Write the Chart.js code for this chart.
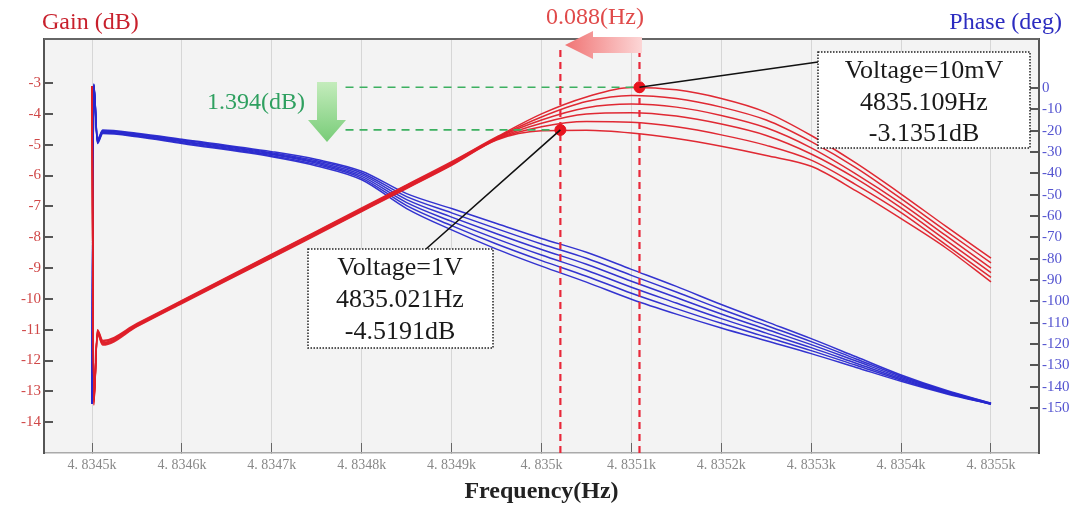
<!DOCTYPE html>
<html>
<head>
<meta charset="utf-8">
<script src="https://cdn.jsdelivr.net/npm/chart.js@4.4.1/dist/chart.umd.min.js"></script>
<style>
  html, body { margin: 0; padding: 0; background: #fff; }
  #wrap { width: 1084px; height: 508px; }
</style>
</head>
<body>
<div id="wrap"><canvas id="chart1" width="1084" height="508"></canvas></div>
<script>
const serif = "'Liberation Serif', 'DejaVu Serif', serif";

// frequency points (Hz)
const freq = [4834.500, 4834.502, 4834.506, 4834.512, 4834.55, 4834.6, 4834.7, 4834.75, 4834.8, 4834.85,
  4834.9, 4834.95, 4835.0, 4835.05, 4835.1, 4835.15, 4835.2, 4835.25, 4835.3, 4835.35, 4835.4, 4835.45, 4835.5];

// gain (dB), 10mV curve first ... 1V curve last
const gainV1 = [-3.1, -13.45, -11.0, -11.35, -10.8, -10.05, -8.55, -7.8, -7.05, -6.3, -5.55, -4.75, -4.0, -3.45, -3.14, -3.22, -3.5, -3.95, -4.7, -5.6, -6.6, -7.65, -8.68];
const gainV2 = [-3.1, -13.4, -11.03, -11.38, -10.82, -10.07, -8.57, -7.82, -7.07, -6.32, -5.57, -4.77, -4.1, -3.6, -3.4, -3.5, -3.78, -4.2, -4.9, -5.75, -6.75, -7.8, -8.83];
const gainV3 = [-3.1, -13.35, -11.06, -11.41, -10.84, -10.09, -8.6, -7.85, -7.1, -6.35, -5.6, -4.79, -4.2, -3.8, -3.68, -3.78, -4.05, -4.45, -5.1, -5.95, -6.9, -7.95, -9.0];
const gainV4 = [-3.1, -13.3, -11.09, -11.44, -10.86, -10.11, -8.62, -7.87, -7.12, -6.37, -5.62, -4.81, -4.3, -4.0, -3.96, -4.07, -4.33, -4.7, -5.3, -6.1, -7.05, -8.1, -9.15];
const gainV5 = [-3.1, -13.25, -11.12, -11.47, -10.88, -10.13, -8.65, -7.9, -7.15, -6.4, -5.65, -4.83, -4.42, -4.25, -4.27, -4.42, -4.68, -5.02, -5.5, -6.3, -7.2, -8.25, -9.3];
const gainV6 = [-3.1, -13.2, -11.15, -11.5, -10.9, -10.15, -8.67, -7.92, -7.17, -6.42, -5.67, -4.85, -4.55, -4.53, -4.62, -4.8, -5.05, -5.35, -5.7, -6.5, -7.4, -8.35, -9.45];

// phase (deg)
const phaseV1 = [-148, 2.0, -24, -19.7, -21.2, -24, -29.8, -33.5, -39, -49.5, -56.5, -63.5, -70.5, -77, -85, -93, -101.5, -109.5, -117.5, -126, -134.5, -141.7, -147.7];
const phaseV2 = [-148, 1.8, -24.4, -20.0, -21.5, -24.4, -30.3, -34.1, -39.8, -50.9, -58.5, -65.9, -73.1, -79.8, -87.8, -95.6, -103.7, -111.3, -118.9, -127, -135.1, -142.0, -147.8];
const phaseV3 = [-148, 1.6, -24.8, -20.3, -21.8, -24.8, -30.8, -34.7, -40.6, -52.3, -60.5, -68.3, -75.7, -82.6, -90.6, -98.2, -105.9, -113.1, -120.3, -128, -135.7, -142.3, -147.9];
const phaseV4 = [-148, 1.4, -25.2, -20.7, -22.2, -25.2, -31.2, -35.3, -41.4, -53.7, -62.5, -70.7, -78.3, -85.4, -93.4, -100.8, -108.1, -114.9, -121.7, -129, -136.3, -142.7, -148.1];
const phaseV5 = [-148, 1.2, -25.6, -21.0, -22.5, -25.6, -31.7, -35.9, -42.2, -55.1, -64.5, -73.1, -80.9, -88.2, -96.2, -103.4, -110.3, -116.7, -123.1, -130, -136.9, -143.0, -148.2];
const phaseV6 = [-148, 1.0, -26, -21.3, -22.8, -26, -32.2, -36.5, -43, -56.5, -66.5, -75.5, -83.5, -91, -99, -106, -112.5, -118.5, -124.5, -131, -137.5, -143.3, -148.3];

// peak cursors: 1V and 10mV
const peakFreq = [4835.021, 4835.109];
const peakGain = [-4.5191, -3.1351];
const guideStart = 4834.782;

// axes
const freqTicks = [4834.5, 4834.6, 4834.7, 4834.8, 4834.9, 4835.0, 4835.1, 4835.2, 4835.3, 4835.4, 4835.5];
const freqTickLabels = ["4. 8345k", "4. 8346k", "4. 8347k", "4. 8348k", "4. 8349k", "4. 835k",
  "4. 8351k", "4. 8352k", "4. 8353k", "4. 8354k", "4. 8355k"];
const gainTicks = [-3, -4, -5, -6, -7, -8, -9, -10, -11, -12, -13, -14];
const phaseTicks = [0, -10, -20, -30, -40, -50, -60, -70, -80, -90, -100, -110, -120, -130, -140, -150];

const gainSeries = [gainV1, gainV2, gainV3, gainV4, gainV5, gainV6];
const phaseSeries = [phaseV1, phaseV2, phaseV3, phaseV4, phaseV5, phaseV6];

function curve(values, axis, color, order) {
  return {
    data: freq.map((f, i) => ({ x: f, y: values[i] })),
    yAxisID: axis,
    borderColor: color,
    borderWidth: 1.5,
    pointRadius: 0,
    cubicInterpolationMode: "monotone",
    order: order,
  };
}

const datasets = [];
gainSeries.forEach((g) => datasets.push(curve(g, "y", "rgba(222,30,40,0.95)", 2)));
phaseSeries.forEach((p) => datasets.push(curve(p, "y1", "rgba(40,40,205,0.95)", 3)));

// red dashed cursors
peakFreq.forEach((f) => {
  datasets.push({
    data: [{ x: f, y: -1.93 }, { x: f, y: -15 }],
    yAxisID: "y",
    borderColor: "#e8283a",
    borderWidth: 2.2,
    borderDash: [7, 5],
    pointRadius: 0,
    order: 1,
  });
});

// green dashed guides
peakFreq.forEach((f, i) => {
  datasets.push({
    data: [{ x: guideStart, y: peakGain[i] }, { x: f, y: peakGain[i] }],
    yAxisID: "y",
    borderColor: "#3cb060",
    borderWidth: 1.6,
    borderDash: [8, 6],
    pointRadius: 0,
    order: 1,
  });
});

// peak markers
datasets.push({
  type: "scatter",
  data: peakFreq.map((f, i) => ({ x: f, y: peakGain[i] })),
  yAxisID: "y",
  pointRadius: 5.5,
  pointBackgroundColor: "#e8141e",
  pointBorderColor: "#e8141e",
  order: 0,
});

const decor = {
  id: "decor",
  beforeDraw(chart) {
    const { ctx, chartArea: a } = chart;
    ctx.save();
    ctx.fillStyle = "#f3f3f3";
    ctx.fillRect(a.left, a.top, a.right - a.left, a.bottom - a.top);
    ctx.restore();
  },
  afterDraw(chart) {
    const { ctx, chartArea: a, scales } = chart;
    const sx = scales.x, sy = scales.y;
    ctx.save();

    // top border
    ctx.strokeStyle = "#666";
    ctx.lineWidth = 2;
    ctx.beginPath();
    ctx.moveTo(a.left, a.top);
    ctx.lineTo(a.right, a.top);
    ctx.stroke();

    // leader lines
    const p1 = { x: sx.getPixelForValue(peakFreq[0]), y: sy.getPixelForValue(peakGain[0]) };
    const p2 = { x: sx.getPixelForValue(peakFreq[1]), y: sy.getPixelForValue(peakGain[1]) };
    ctx.strokeStyle = "#111";
    ctx.lineWidth = 1.6;
    ctx.beginPath();
    ctx.moveTo(p2.x, p2.y);
    ctx.lineTo(818, 62);
    ctx.moveTo(p1.x, p1.y);
    ctx.lineTo(426, 249);
    ctx.stroke();

    // boxes
    function box(x0, y0, x1, y1, lines, cx, ys) {
      ctx.fillStyle = "#fff";
      ctx.fillRect(x0, y0, x1 - x0, y1 - y0);
      ctx.setLineDash([1.5, 1.5]);
      ctx.strokeStyle = "#222";
      ctx.lineWidth = 1.5;
      ctx.strokeRect(x0, y0, x1 - x0, y1 - y0);
      ctx.setLineDash([]);
      ctx.fillStyle = "#1a1a1a";
      ctx.font = "26px " + serif;
      ctx.textAlign = "center";
      ctx.textBaseline = "middle";
      lines.forEach((t, i) => ctx.fillText(t, cx, ys[i]));
    }
    box(818, 52, 1030, 148, ["Voltage=10mV", "4835.109Hz", "-3.1351dB"], 924, [71, 103, 134]);
    box(308, 249, 493, 348, ["Voltage=1V", "4835.021Hz", "-4.5191dB"], 400, [268, 300, 332]);

    // pink arrow (frequency shift)
    let g = ctx.createLinearGradient(565, 0, 642, 0);
    g.addColorStop(0, "#f07474");
    g.addColorStop(1, "#fcd6d6");
    ctx.fillStyle = g;
    ctx.beginPath();
    ctx.moveTo(565, 45);
    ctx.lineTo(593, 31);
    ctx.lineTo(593, 37);
    ctx.lineTo(642, 37);
    ctx.lineTo(642, 53);
    ctx.lineTo(593, 53);
    ctx.lineTo(593, 59);
    ctx.closePath();
    ctx.fill();

    // green arrow (gain drop)
    g = ctx.createLinearGradient(0, 82, 0, 142);
    g.addColorStop(0, "#c4ecbc");
    g.addColorStop(1, "#78cc78");
    ctx.fillStyle = g;
    ctx.beginPath();
    ctx.moveTo(317, 82);
    ctx.lineTo(337, 82);
    ctx.lineTo(337, 120);
    ctx.lineTo(346, 120);
    ctx.lineTo(327, 142);
    ctx.lineTo(308, 120);
    ctx.lineTo(317, 120);
    ctx.closePath();
    ctx.fill();

    // labels
    ctx.textBaseline = "middle";
    ctx.font = "24px " + serif;
    ctx.textAlign = "left";
    ctx.fillStyle = "#c8202c";
    ctx.fillText("Gain (dB)", 42, 23);
    ctx.textAlign = "right";
    ctx.fillStyle = "#2c2cc0";
    ctx.fillText("Phase (deg)", 1062, 23);
    ctx.textAlign = "center";
    ctx.fillStyle = "#e04a4a";
    ctx.fillText("0.088(Hz)", 595, 18);
    ctx.fillStyle = "#2fa060";
    ctx.fillText("1.394(dB)", 256, 103);

    ctx.restore();
  },
};

const ctx = document.getElementById("chart1").getContext("2d");
const myChart = new Chart(ctx, {
  type: "line",
  data: { datasets: datasets },
  plugins: [decor],
  options: {
    responsive: false,
    animation: false,
    devicePixelRatio: 1,
    layout: { padding: { top: 39, left: 0, right: 0, bottom: 0 } },
    plugins: {
      legend: { display: false },
      tooltip: { enabled: false },
    },
    scales: {
      x: {
        type: "linear",
        min: 4834.4466,
        max: 4835.5534,
        afterBuildTicks: (s) => {
          s.ticks = freqTicks.map((v) => ({ value: v }));
        },
        afterFit: (s) => {
          s.height = 55;
        },
        ticks: {
          callback: (v, i) => freqTickLabels[i],
          color: "#888",
          font: { family: serif, size: 14 },
          padding: 14,
          autoSkip: false,
          maxRotation: 0,
        },
        grid: { color: "#d6d6d6", lineWidth: 1, tickLength: -10, tickColor: "#666" },
        border: { color: "#aaa", width: 1.5 },
        title: {
          display: true,
          text: "Frequency(Hz)",
          color: "#222",
          font: { family: serif, size: 24, weight: "bold" },
          padding: { top: 0, bottom: 2 },
        },
      },
      y: {
        position: "left",
        min: -15.0,
        max: -1.57,
        afterBuildTicks: (s) => {
          s.ticks = gainTicks.map((v) => ({ value: v }));
        },
        afterFit: (s) => {
          s.width = 44;
        },
        ticks: { color: "#d04848", font: { family: serif, size: 15 }, padding: 12 },
        grid: { drawOnChartArea: false, tickLength: -9, tickColor: "#555", lineWidth: 2 },
        border: { color: "#555", width: 2 },
      },
      y1: {
        position: "right",
        min: -171.1,
        max: 23,
        afterBuildTicks: (s) => {
          s.ticks = phaseTicks.map((v) => ({ value: v }));
        },
        afterFit: (s) => {
          s.width = 45;
        },
        ticks: { color: "#5454d0", font: { family: serif, size: 15 }, padding: 12 },
        grid: { drawOnChartArea: false, tickLength: -9, tickColor: "#555", lineWidth: 2 },
        border: { color: "#555", width: 2 },
      },
    },
  },
});
</script>
</body>
</html>
